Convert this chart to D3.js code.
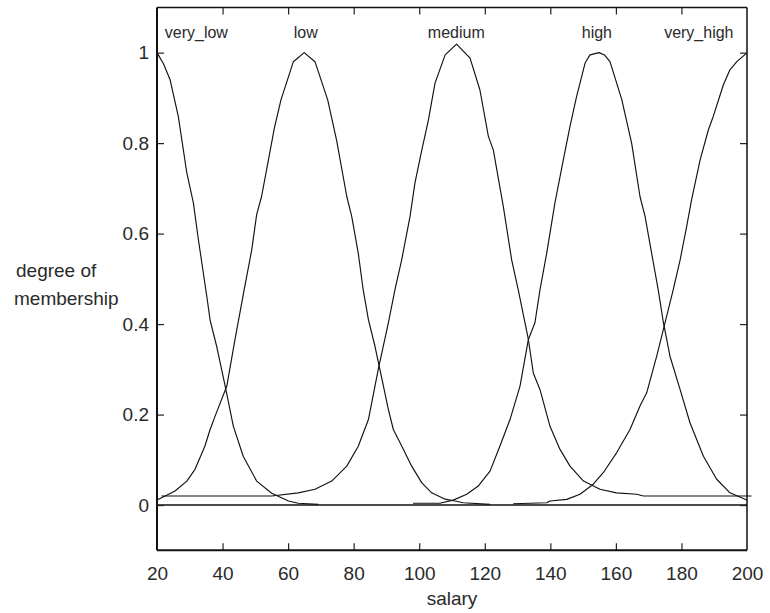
<!DOCTYPE html>
<html>
<head>
<meta charset="utf-8">
<script src="https://cdn.jsdelivr.net/npm/d3@7"></script>
<style>
  html, body { margin: 0; padding: 0; background: #fff; }
  svg { display: block; }
  text { font-family: "Liberation Sans", Arial, Helvetica, sans-serif; fill: #2a2a2a; }
</style>
</head>
<body>
<svg id="chart" width="770" height="613"></svg>
<script>
// ---- data (salary, degree of membership) ----
const mfNames = ["very_low", "low", "medium", "high", "very_high"];
const labelSalary = [32, 65.4, 111.3, 154.2, 185.3];

const veryLow = [[20,1.0],[22,0.975],[24,0.94],[26.5,0.859],[29.1,0.734],[31.1,0.668],[32.6,0.588],[35.2,0.461],
  [36.2,0.409],[38.2,0.351],[40.8,0.263],[43.3,0.174],[46.3,0.108],[50.4,0.053],[55,0.026],
  [60.1,0.009],[63.1,0.004],[69.2,0.0015]];

const low = [[20,0.011],[21.4,0.016],[25.5,0.031],[29.1,0.053],[31.6,0.079],[34.6,0.13],[36.2,0.167],
  [37.7,0.196],[41.3,0.263],[43.8,0.366],[46.6,0.476],[48.9,0.564],[50.4,0.642],[51.9,0.682],
  [54,0.763],[55.8,0.833],[57.8,0.895],[61.6,0.98],[64.9,1.0],[68.2,0.98],[72.1,0.895],[74.8,0.806],
  [77.9,0.682],[79.4,0.638],[81.4,0.557],[82.9,0.476],[84.5,0.41],[86.5,0.351],[88,0.3],[90.6,0.211],
  [92.1,0.167],[94.7,0.13],[97.7,0.086],[100.8,0.049],[103.8,0.027],[107.9,0.013],[110.9,0.009],
  [113.4,0.005],[121.6,0.0015]];

const medium = [[21.4,0.02],[55,0.02],[63.1,0.027],[68.2,0.035],[73.3,0.053],[77.9,0.086],[81.4,0.13],
  [84.5,0.189],[87.5,0.3],[90.6,0.403],[92.6,0.476],[94.65,0.542],[97.2,0.638],[98.7,0.712],
  [100.8,0.785],[102.8,0.851],[104.8,0.932],[107.9,0.995],[111.4,1.019],[115.5,0.988],[118.5,0.918],
  [121.1,0.815],[122.6,0.785],[125.65,0.66],[128.2,0.542],[130.2,0.476],[133.3,0.366],[134.8,0.292],
  [136.85,0.255],[139.9,0.174],[142.95,0.123],[146,0.086],[150.1,0.053],[155.15,0.035],[160.2,0.027],
  [166.35,0.024],[168.4,0.02],[201.4,0.02]];

const high = [[98.1,0.004],[106.3,0.004],[110.3,0.011],[110.9,0.0126],[114.5,0.024],[118,0.042],
  [121.6,0.075],[124.6,0.13],[127.7,0.189],[130.75,0.263],[133.3,0.366],[135.3,0.403],[136.85,0.476],
  [138.9,0.557],[141.4,0.668],[143.96,0.763],[146,0.837],[148,0.903],[150.6,0.977],[152.1,0.995],
  [154.9,1.0],[156.5,0.995],[158.2,0.98],[161.8,0.896],[164.8,0.8],[167.35,0.682],[168.9,0.638],[170.9,0.557],
  [172.9,0.476],[174.5,0.403],[176.5,0.329],[179.6,0.255],[182.6,0.182],[186.7,0.108],[190.75,0.057],
  [194.8,0.027],[199.4,0.013],[200,0.011]];

const veryHigh = [[128.7,0.003],[138.9,0.005],[139.9,0.009],[145,0.0126],[149.05,0.024],[153.1,0.046],
  [156.2,0.072],[160.25,0.116],[164.3,0.167],[167.35,0.219],[169.4,0.248],[172.45,0.329],[175,0.403],
  [177.5,0.476],[179.6,0.542],[181.6,0.616],[183.1,0.675],[185.7,0.763],[188.2,0.829],[189.7,0.859],
  [192.8,0.929],[194.8,0.962],[196.9,0.98],[199.9,0.999]];

const xTicks = [20, 40, 60, 80, 100, 120, 140, 160, 180, 200];
const yTicks = [0, 0.2, 0.4, 0.6, 0.8, 1];
const xDomain = [20, 200];
const yDomain = [-0.1, 1.1];
const xTitle = "salary";
const yTitleLines = ["degree of", "membership"];

// ---- layout ----
const svg = d3.select("#chart");
const pLeft = 157, pRight = 747, pTop = 7.4, pBottom = 550.3;

const x = d3.scaleLinear().domain(xDomain).range([pLeft, pRight]);
const y = d3.scaleLinear().domain(yDomain).range([pBottom, pTop]);

// zero line
svg.append("line")
  .attr("x1", pLeft).attr("x2", pRight)
  .attr("y1", y(0)).attr("y2", y(0))
  .attr("stroke", "#111").attr("stroke-width", 1.5);

// curves
const line = d3.line().x(d => x(d[0])).y(d => y(d[1]));
[veryLow, low, medium, high, veryHigh].forEach(series => {
  svg.append("path")
    .attr("d", line(series))
    .attr("fill", "none")
    .attr("stroke", "#111")
    .attr("stroke-width", 1.15)
    .attr("stroke-linejoin", "round");
});

// axes (ticks pointing inward, no domain path)
const tickLen = 7;
const gB = svg.append("g").attr("transform", `translate(0,${pBottom})`)
  .call(d3.axisBottom(x).tickValues(xTicks).tickSize(-tickLen).tickPadding(tickLen + 9).tickFormat(d3.format("d")));
const gT = svg.append("g").attr("transform", `translate(0,${pTop})`)
  .call(d3.axisTop(x).tickValues(xTicks).tickSize(-tickLen).tickFormat(""));
const gL = svg.append("g").attr("transform", `translate(${pLeft},0)`)
  .call(d3.axisLeft(y).tickValues(yTicks).tickSize(-tickLen).tickPadding(tickLen + 1).tickFormat(d => d3.format("~g")(d)));
const gR = svg.append("g").attr("transform", `translate(${pRight},0)`)
  .call(d3.axisRight(y).tickValues(yTicks).tickSize(-tickLen).tickFormat(""));

[gB, gT, gL, gR].forEach(g => {
  g.select(".domain").remove();
  g.selectAll(".tick line").attr("stroke", "#222").attr("stroke-width", 1.2);
  g.selectAll(".tick text").attr("fill", "#2a2a2a")
    .style("font-family", '"Liberation Sans", Arial, sans-serif').style("font-size", "19px");
});
gB.selectAll(".tick line").filter(d => d === 20 || d === 200).remove();
gT.selectAll(".tick line").filter(d => d === 20 || d === 200).remove();

// box
svg.append("line").attr("x1", pLeft).attr("x2", pLeft).attr("y1", pTop).attr("y2", pBottom)
  .attr("stroke", "#111").attr("stroke-width", 2);
svg.append("line").attr("x1", pLeft).attr("x2", pRight).attr("y1", pBottom).attr("y2", pBottom)
  .attr("stroke", "#111").attr("stroke-width", 2);
svg.append("line").attr("x1", pLeft).attr("x2", pRight).attr("y1", pTop).attr("y2", pTop)
  .attr("stroke", "#111").attr("stroke-width", 1.5);
svg.append("line").attr("x1", pRight).attr("x2", pRight).attr("y1", pTop).attr("y2", pBottom)
  .attr("stroke", "#111").attr("stroke-width", 1.5);

// MF labels
svg.selectAll("text.mf").data(mfNames).enter().append("text")
  .attr("class", "mf")
  .attr("x", (d, i) => x(labelSalary[i]))
  .attr("y", 37.5)
  .attr("text-anchor", "middle")
  .style("font-size", "16px")
  .text(d => d);

// axis titles
svg.append("text").attr("x", (pLeft + pRight) / 2).attr("y", 605)
  .attr("text-anchor", "middle").style("font-size", "19px").text(xTitle);
svg.append("text").attr("x", 16).attr("y", 277)
  .style("font-size", "19px").text(yTitleLines[0]);
svg.append("text").attr("x", 14).attr("y", 305)
  .style("font-size", "19px").text(yTitleLines[1]);
</script>
</body>
</html>
